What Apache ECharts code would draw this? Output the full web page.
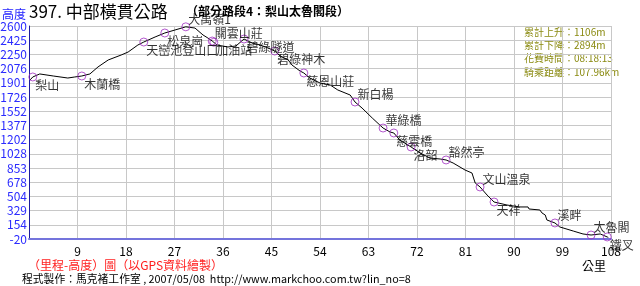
<!DOCTYPE html>
<html>
<head>
<meta charset="utf-8">
<script src="https://cdn.jsdelivr.net/npm/echarts@6.0.0/dist/echarts.min.js"></script>
<style>
html,body{margin:0;padding:0;background:#fff;}
#chart{width:640px;height:286px;}
</style>
</head>
<body>
<div id="chart"></div>
<script>
// ---- data ----
var profileKm = [0.2,0.7,2.0,4.5,7.2,8.5,9.8,11.3,12.8,14.7,17.1,18.4,20.2,21.3,23.4,25.2,27.1,29.1,30.8,32.3,33.2,34.0,34.9,36.9,38.4,39.9,41.4,42.9,44.4,45.6,46.6,48.1,48.8,50.3,51.0,52.1,54.0,55.9,57.3,59.6,60.5,61.8,63.7,65.1,65.7,67.0,67.7,68.8,70.9,72.6,74.4,76.3,77.4,78.7,80.9,82.2,82.8,83.7,85.0,86.3,88.7,91.1,92.6,92.8,94.8,95.2,95.8,96.1,97.6,98.5,101.0,102.8,104.3,106.0,107.3,107.5];
var profileElev = [1936,1973,2010,1985,1960,1973,1985,2010,2096,2182,2243,2280,2366,2403,2465,2514,2551,2590,2575,2489,2452,2415,2366,2342,2354,2440,2391,2366,2329,2292,2231,2182,2120,2046,2022,1960,1899,1874,1813,1751,1665,1591,1468,1382,1345,1296,1284,1198,1112,1038,976,964,952,915,829,792,669,620,521,435,398,374,374,349,337,300,275,214,177,128,78,42,29,42,5,0];

var stationNames = ["梨山","木蘭橋","天巒池登山口","松泉崗","大禹嶺1","關雲山莊","加油站","碧綠隧道","碧綠神木","慈恩山莊","新白楊","華綠橋","慈雲橋","洛韶","豁然亭","文山溫泉","天祥","溪畔","太魯閣","鐵叉"];
var stationKm = [0.7,9.8,21.3,25.2,29.1,34.0,34.3,39.9,45.6,51.0,60.5,65.7,67.7,70.9,77.4,83.7,86.3,97.6,104.3,107.3];
var stationElev = [1973,1985,2403,2514,2590,2415,2400,2440,2292,2022,1665,1345,1284,1112,952,620,435,177,29,5];
// label side: 'b' = below-right, 't' = above-right
var stationLabelSide = ['b','b','b','b','t','t','b','b','b','b','t','t','b','b','t','t','b','t','t','b'];

var yTickLabels = [-20,154,329,504,678,853,1028,1202,1377,1552,1726,1901,2076,2250,2425,2600];
var xTickLabels = [9,18,27,36,45,54,63,72,81,90,99,108];

var statsLines = ["累計上升：1106m","累計下降：2894m","花費時間：08:18:13","騎乘距離：107.96km"];

// ---- build ----
var lineData = profileKm.map(function(k,i){return [k, profileElev[i]];});
var markerData = stationNames.map(function(n,i){
  return {
    value:[stationKm[i], stationElev[i]],
    name:n,
    label:{position: stationLabelSide[i]==='t' ? [7,-3] : [7,13]}
  };
});

var CJK = '"Noto Sans CJK TC","Noto Sans CJK SC",sans-serif';
var chart = echarts.init(document.getElementById('chart'), null, {renderer:'canvas'});

var graphics = [
  {type:'text', x:2, y:14, style:{text:'高度', fill:'#2424ff', font:'12px '+CJK, verticalAlign:'middle'}},
  {type:'text', x:29, y:12, style:{text:'397. 中部橫貫公路', fill:'#000', font:'17px '+CJK, verticalAlign:'middle'}},
  {type:'text', x:186, y:11, style:{text:'（部分路段4：梨山太魯閣段）', fill:'#000', font:'bold 12px '+CJK, verticalAlign:'middle'}},
  {type:'text', x:582, y:266, style:{text:'公里', fill:'#000', font:'12px '+CJK, verticalAlign:'middle'}},
  {type:'text', x:28, y:265, style:{text:'（里程-高度）圖（以GPS資料繪製）', fill:'#ff2020', font:'12px '+CJK, verticalAlign:'middle'}},
  {type:'text', x:22, y:279, style:{text:'程式製作：馬克褚工作室 , 2007/05/08  http://www.markchoo.com.tw?lin_no=8', fill:'#000', font:'10.8px '+CJK, verticalAlign:'middle'}}
];
statsLines.forEach(function(t,i){
  graphics.push({type:'text', x:524, y:32+13.3*i, style:{text:t, fill:'#8a8a10', font:'10px '+CJK, verticalAlign:'middle'}});
});

chart.setOption({
  animation:false,
  backgroundColor:'#fff',
  grid:{left:29, right:29, top:26, bottom:47, containLabel:false, outerBoundsMode:'none'},
  xAxis:{
    type:'value', min:0, max:108, interval:9,
    axisLine:{show:true, onZero:false, lineStyle:{color:'#7474dc', width:2}},
    axisTick:{show:false},
    axisLabel:{color:'#000', fontSize:12, fontFamily:CJK, margin:6,
      customValues: xTickLabels,
      formatter:function(v){return String(v);}},
    splitLine:{show:true, lineStyle:{color:'#c8c8c8', width:1}}
  },
  yAxis:{
    type:'value', min:-20, max:2600,
    axisLine:{show:true, onZero:false, lineStyle:{color:'#1c1ca0', width:1}},
    axisTick:{show:false, customValues: yTickLabels},
    axisLabel:{color:'#2a2aff', fontSize:12, fontFamily:CJK, margin:2,
      customValues: yTickLabels, padding:[6,0,0,0],
      formatter:function(v){return String(v);}},
    splitLine:{show:true, lineStyle:{color:'#c8c8c8', width:1}}
  },
  graphic: graphics,
  series:[
    {type:'line', data:lineData, symbol:'none', lineStyle:{color:'#000', width:1}, z:3},
    {type:'scatter', data:markerData, symbol:'circle', symbolSize:8,
      itemStyle:{color:'rgba(255,255,255,0)', borderColor:'#a030c0', borderWidth:1},
      label:{show:true, formatter:'{b}', color:'#000', fontSize:12, fontFamily:CJK, align:'left', verticalAlign:'middle'},
      z:4}
  ]
});
</script>
</body>
</html>
